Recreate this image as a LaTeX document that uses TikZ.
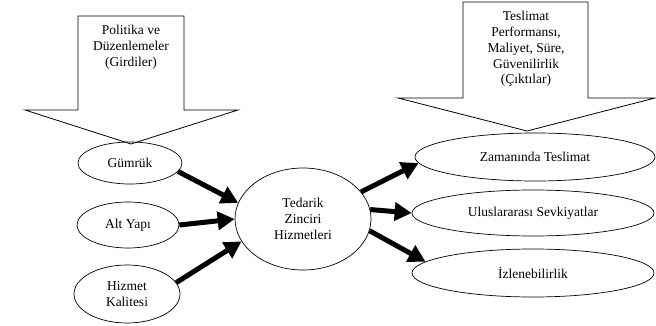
\documentclass[tikz,border=0pt]{standalone}
\usepackage{fontspec}
\setmainfont{Liberation Serif}
\usetikzlibrary{arrows.meta,shapes.geometric}
\begin{document}
\begin{tikzpicture}[
  x=1pt, y=-1pt,
  every node/.style = {
    align=center,
    node font=\fontsize{13.5}{15.8}\selectfont,
    inner sep=0pt
  },
  oval/.style = {ellipse, draw, line width=0.7pt},
  blockarrow/.style = {draw, line width=0.8pt, line join=miter},
  bigarrow/.style = {line width=5pt, -{Triangle[length=17pt,width=18pt]}}
]
    \useasboundingbox (0,0) rectangle (656,326);
    % inputs and outputs block arrows
    \draw[blockarrow] (78,16) -- (184,16) -- (184,110) -- (238,110) -- (131,144)
      -- (25,110) -- (78,110) -- cycle;
    \node (girdi) at (131,47) {Politika ve\\Düzenlemeler\\(Girdiler)};
    \draw[blockarrow] (463,2) -- (588,2) -- (588,98) -- (655,98) -- (527,131)
      -- (398,98) -- (463,98) -- cycle;
    \node (cikti) at (526,49) {Teslimat\\Performansı,\\Maliyet, Süre,\\Güvenilirlik\\(Çıktılar)};
    % left side
    \node[oval, minimum width=104pt, minimum height=42pt] (gumruk) at (130,163) {Gümrük};
    \node[oval, minimum width=102pt, minimum height=46pt] (altyapi) at (128,225) {Alt Yapı};
    \node[oval, minimum width=106pt, minimum height=58pt] (kalite) at (127,294) {Hizmet\\Kalitesi};
    % center
    \node[oval, minimum width=136pt, minimum height=102pt] (tedarik) at (303,219) {Tedarik\\Zinciri\\Hizmetleri};
    % right side
    \node[oval, minimum width=240pt, minimum height=48pt] (zaman) at (535,157) {Zamanında Teslimat};
    \node[oval, minimum width=242pt, minimum height=46pt] (sevk) at (533,213) {Uluslararası Sevkiyatlar};
    \node[oval, minimum width=242pt, minimum height=48pt] (izle) at (533,273) {İzlenebilirlik};
    % thick arrows
    \draw[bigarrow] (gumruk.-10) -- (tedarik.166);
    \draw[bigarrow] (altyapi.east) -- (tedarik.west);
    \draw[bigarrow] (kalite.13) -- (tedarik.200);
    \draw[bigarrow] (tedarik.25) -- (zaman.183);
    \draw[bigarrow] (tedarik.8) -- (sevk.west);
    \draw[bigarrow] (tedarik.-10) -- (izle.174);
\end{tikzpicture}
\end{document}
